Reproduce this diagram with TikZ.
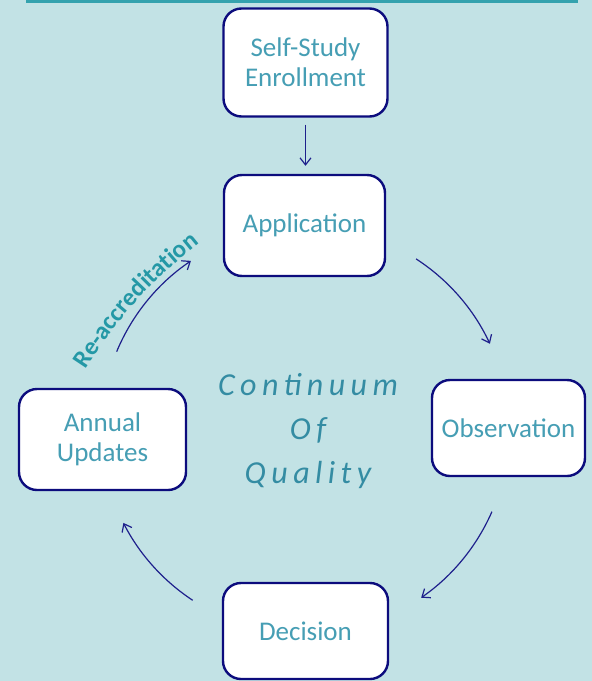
\documentclass[tikz,border=0pt]{standalone}
\usepackage{fontspec}
\usetikzlibrary{arrows.meta,decorations.text}
\newfontfamily\cf{Carlito}
\newfontfamily\cfsp[LetterSpace=17]{Carlito}
\definecolor{bgc}{RGB}{194,226,229}
\definecolor{boxline}{RGB}{12,12,125}
\definecolor{boxtext}{RGB}{70,158,180}
\definecolor{cqtext}{RGB}{52,140,163}
\definecolor{reacc}{RGB}{36,152,166}
\definecolor{arrc}{RGB}{30,32,140}
\definecolor{topline}{RGB}{52,162,174}
\tikzset{
  stagebox/.style={draw=boxline, line width=2.4pt, fill=white, rounded corners=18pt,
    align=center, inner sep=0pt, font=\cf\fontsize{27}{30}\selectfont, text=boxtext},
  arr/.style={draw=arrc, line width=1.2pt, -{Straight Barb[length=7pt,width=11pt]}}
}
\begin{document}
\begin{tikzpicture}[x=1pt,y=1pt]
\useasboundingbox (0,0) rectangle (592,-681);
\fill[bgc] (0,0) rectangle (592,-681);
\draw[topline, line width=2.4pt] (27,10) -- (27,-1.4) -- (577,-1.4) -- (577,10);

\node[stagebox, minimum width=164pt, minimum height=108pt] (top) at (305.5,-62.5) {Self-Study\\Enrollment};
\node[stagebox, minimum width=161pt, minimum height=101pt] (app) at (304.5,-225.5) {Application};
\node[stagebox, minimum width=153pt, minimum height=96pt] (obs) at (508.5,-428) {Observation};
\node[stagebox, minimum width=167pt, minimum height=101pt] (ann) at (102.5,-439.5) {Annual\\Updates};
\node[stagebox, minimum width=165pt, minimum height=96pt] (dec) at (305.5,-631) {Decision};

\node[align=center, text=cqtext, font=\cfsp\itshape\fontsize{32}{44}\selectfont] (cq) at (308,-431) {Continuum\\Of\\Quality};

\draw[arr, shorten <=7pt, shorten >=8pt] (top.south) -- (top.south |- app.north);

\coordinate (ctr) at (305,-430);
\coordinate (a1) at ([shift={(57:204)}]ctr);
\coordinate (a2) at ([shift={(-23.6:204)}]ctr);
\coordinate (a3) at ([shift={(-123.4:204)}]ctr);
\coordinate (a4) at ([shift={(157.4:204)}]ctr);
\draw[arr] (a1) arc[start angle=57, end angle=25, radius=204];
\draw[arr] (a2) arc[start angle=-23.6, end angle=-55.3, radius=204];
\draw[arr] (a3) arc[start angle=-123.4, end angle=-152.9, radius=204];
\draw[arr] (a4) arc[start angle=157.4, end angle=124, radius=204];

\coordinate (rs) at (85,-370);
\coordinate (re) at (200,-243);
\path[decorate, decoration={text along path, text align=center,
  text={|\cf\bfseries\fontsize{25}{28}\selectfont\color{reacc}|Re-accreditation}}]
  (rs) to[bend left=9] (re);
\end{tikzpicture}
\end{document}
